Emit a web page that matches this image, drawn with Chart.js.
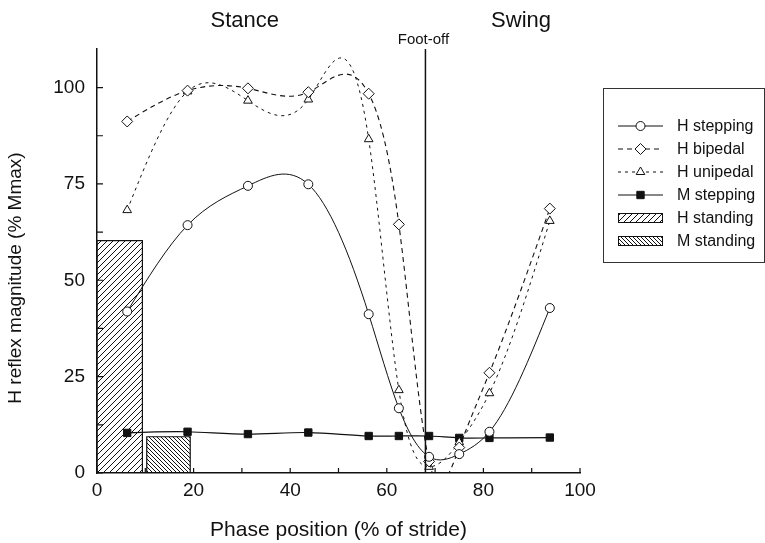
<!DOCTYPE html>
<html>
<head>
<meta charset="utf-8">
<script src="https://cdn.jsdelivr.net/npm/chart.js@4.4.0/dist/chart.umd.min.js"></script>
<style>
  html, body { margin: 0; padding: 0; background: #fff; }
  #wrap { width: 765px; height: 543px; }
</style>
</head>
<body>
<div id="wrap"><canvas id="hreflex" width="765" height="543"></canvas></div>
<script>
// phase bins of the stride (% of stride)
var phase = [6.25, 18.75, 31.25, 43.75, 56.25, 62.5, 68.75, 75, 81.25, 93.75];

// H and M reflex amplitudes (% Mmax)
var hStepping = [41.9, 64.3, 74.5, 74.9, 41.2, 16.8, 4.2, 4.9, 10.7, 42.8];
var hBipedal  = [91.2, 99.2, 99.8, 98.8, 98.4, 64.5, 3.0, 6.6, 26.0, 68.6];
var hUnipedal = [68.2, 99.0, 96.6, 96.9, 86.6, 21.5, 1.6, 8.0, 20.7, 65.4];
var mStepping = [10.4, 10.7, 10.1, 10.5, 9.6, 9.6, 9.6, 9.1, 9.1, 9.2];

// standing values, shown as blocks over a span of the phase axis
var standingLabels = ['H standing', 'M standing'];
var standingValues = [60.3, 9.4];
var standingFrom = [0, 10.3];
var standingTo = [9.4, 19.3];

var footOff = 68;

var xTicks = [0, 10, 20, 30, 40, 50, 60, 70, 80, 90, 100];
var xTickLabels = [0, 20, 40, 60, 80, 100];
var yTicks = [0, 12.5, 25, 37.5, 50, 62.5, 75, 87.5, 100];
var yTickLabels = [0, 25, 50, 75, 100];

var ink = '#111';
var font = "'Liberation Sans', Arial, sans-serif";

var canvas = document.getElementById('hreflex');
var ctx = canvas.getContext('2d');

// diagonal hatch fill, dir 1 = "/", dir -1 = "\"
function hatch(size, dir) {
    var c = document.createElement('canvas');
    c.width = size; c.height = size;
    var g = c.getContext('2d');
    g.strokeStyle = ink;
    g.lineWidth = 1;
    g.beginPath();
    if (dir > 0) {
        g.moveTo(-1, size + 1); g.lineTo(size + 1, -1);
        g.moveTo(-1, 1); g.lineTo(1, -1);
        g.moveTo(size - 1, size + 1); g.lineTo(size + 1, size - 1);
    } else {
        g.moveTo(-1, -1); g.lineTo(size + 1, size + 1);
        g.moveTo(size - 1, -1); g.lineTo(size + 1, 1);
        g.moveTo(-1, size - 1); g.lineTo(1, size + 1);
    }
    g.stroke();
    return ctx.createPattern(c, 'repeat');
}

function pairs(ys) {
    return phase.map(function (x, i) { return { x: x, y: ys[i] }; });
}

function standingBlock(k) {
    return [
        { x: standingFrom[k], y: 0 },
        { x: standingFrom[k], y: standingValues[k] },
        { x: standingTo[k], y: standingValues[k] },
        { x: standingTo[k], y: 0 }
    ];
}

// natural cubic spline through each curve, fed to the line element as bezier control points
var naturalSpline = {
    id: 'naturalSpline',
    afterDatasetsUpdate: function (chart) {
        chart.data.datasets.forEach(function (ds, di) {
            if (!ds.spline) return;
            var meta = chart.getDatasetMeta(di);
            var pts = meta.data, n = pts.length;
            var x = pts.map(function (p) { return p.x; });
            var y = pts.map(function (p) { return p.y; });
            var h = [], M = new Array(n).fill(0);
            for (var i = 0; i < n - 1; i++) h[i] = x[i + 1] - x[i];
            var cp = new Array(n).fill(0), dp = new Array(n).fill(0);
            for (var i = 1; i < n - 1; i++) {
                var a = h[i - 1], b = 2 * (h[i - 1] + h[i]), c = h[i];
                var d = 6 * ((y[i + 1] - y[i]) / h[i] - (y[i] - y[i - 1]) / h[i - 1]);
                var den = b - a * cp[i - 1];
                cp[i] = c / den;
                dp[i] = (d - a * dp[i - 1]) / den;
            }
            for (var i = n - 2; i >= 1; i--) M[i] = dp[i] - cp[i] * M[i + 1];
            pts[0].cp1x = x[0]; pts[0].cp1y = y[0];
            pts[n - 1].cp2x = x[n - 1]; pts[n - 1].cp2y = y[n - 1];
            for (var i = 0; i < n - 1; i++) {
                var s = (y[i + 1] - y[i]) / h[i];
                var d0 = s - h[i] * (2 * M[i] + M[i + 1]) / 6;
                var d1 = s + h[i] * (M[i] + 2 * M[i + 1]) / 6;
                pts[i].cp2x = x[i] + h[i] / 3;
                pts[i].cp2y = y[i] + d0 * h[i] / 3;
                pts[i + 1].cp1x = x[i + 1] - h[i] / 3;
                pts[i + 1].cp1y = y[i + 1] - d1 * h[i] / 3;
            }
            meta.dataset._pointsUpdated = true;
        });
    }
};

// tick marks pointing into the plot
var inwardTicks = {
    id: 'inwardTicks',
    afterDraw: function (chart) {
        var c = chart.ctx, xs = chart.scales.x, ys = chart.scales.y, a = chart.chartArea;
        c.save();
        c.strokeStyle = ink;
        c.lineWidth = 1.2;
        c.beginPath();
        xTicks.forEach(function (v) {
            var px = xs.getPixelForValue(v);
            c.moveTo(px, a.bottom); c.lineTo(px, a.bottom - 5);
        });
        yTicks.forEach(function (v) {
            var py = ys.getPixelForValue(v);
            c.moveTo(a.left, py); c.lineTo(a.left + 6, py);
        });
        c.stroke();
        c.restore();
    }
};

// foot-off marker, phase names and y title
var phaseMarks = {
    id: 'phaseMarks',
    afterDatasetsDraw: function (chart, args, opts) {
        var c = chart.ctx, xs = chart.scales.x, a = chart.chartArea;
        var px = xs.getPixelForValue(footOff);
        c.save();
        c.strokeStyle = ink;
        c.lineWidth = 1.5;
        c.beginPath();
        c.moveTo(px, a.top);
        c.lineTo(px, a.bottom);
        c.stroke();
        c.fillStyle = ink;
        c.textAlign = 'center';
        c.textBaseline = 'middle';
        c.font = '15px ' + font;
        c.fillText('Foot-off', px - 2, 40);
        c.font = '22px ' + font;
        c.fillText('Stance', xs.getPixelForValue(opts.stanceAt), 21);
        c.fillText('Swing', xs.getPixelForValue(opts.swingAt), 21);
        c.translate(16, 278);
        c.rotate(-Math.PI / 2);
        c.font = '19px ' + font;
        c.fillText('H reflex magnitude (% Mmax)', 0, 0);
        c.restore();
    }
};

// framed legend with line/marker and hatch samples
var boxLegend = {
    id: 'boxLegend',
    afterDraw: function (chart, args, o) {
        var c = chart.ctx;
        c.save();
        c.strokeStyle = '#333';
        c.lineWidth = 1;
        c.strokeRect(o.left + 0.5, o.top + 0.5, o.width, o.height);
        chart.data.datasets.forEach(function (ds, i) {
            var y = o.firstRow + i * o.rowGap;
            var x0 = o.left + 15, x1 = o.left + 60, xm = (x0 + x1) / 2;
            c.strokeStyle = ink;
            if (ds.fill) {
                c.fillStyle = ds.backgroundColor;
                c.fillRect(x0, y - 5, x1 - x0, 10);
                c.lineWidth = 1;
                c.strokeRect(x0 + 0.5, y - 4.5, x1 - x0 - 1, 9);
            } else {
                c.lineWidth = ds.borderWidth;
                c.setLineDash(ds.borderDash || []);
                c.beginPath();
                c.moveTo(x0, y); c.lineTo(x1, y);
                c.stroke();
                c.setLineDash([]);
                c.fillStyle = ds.pointBackgroundColor;
                c.lineWidth = 1;
                Chart.helpers.drawPoint(c, {
                    pointStyle: ds.pointStyle, radius: ds.pointRadius,
                    rotation: 0, borderWidth: 1
                }, xm, y);
            }
            c.fillStyle = ink;
            c.font = '16px ' + font;
            c.textAlign = 'left';
            c.textBaseline = 'middle';
            c.fillText(ds.label, o.left + 74, y + 1);
        });
        c.restore();
    }
};

var lineBase = {
    borderColor: ink,
    pointBorderColor: ink,
    pointBorderWidth: 1,
    tension: 0.4,
    spline: true,
    fill: false,
    // curves stop at the phase axis
    clip: { left: 8, right: 8, top: 8, bottom: 0 },
    order: 1
};

function curve(label, ys, extra) {
    return Object.assign({ label: label, data: pairs(ys) }, lineBase, extra);
}

var datasets = [
    curve('H stepping', hStepping, { borderWidth: 1, pointStyle: 'circle', pointRadius: 4.5, pointBackgroundColor: '#fff' }),
    curve('H bipedal', hBipedal, { borderWidth: 1.1, borderDash: [5, 4], pointStyle: 'rectRot', pointRadius: 5.5, pointBackgroundColor: '#fff' }),
    curve('H unipedal', hUnipedal, { borderWidth: 1, borderDash: [3, 4], pointStyle: 'triangle', pointRadius: 5, pointBackgroundColor: '#fff' }),
    curve('M stepping', mStepping, { borderWidth: 1.2, pointStyle: 'rect', pointRadius: 5.2, pointBackgroundColor: ink }),
    {
        label: standingLabels[0], data: standingBlock(0), borderColor: ink, borderWidth: 1.2,
        backgroundColor: hatch(6, 1), fill: 'origin', pointRadius: 0, tension: 0, order: 2
    },
    {
        label: standingLabels[1], data: standingBlock(1), borderColor: ink, borderWidth: 1.2,
        backgroundColor: hatch(4, -1), fill: 'origin', pointRadius: 0, tension: 0, order: 2
    }
];

var chart = new Chart(ctx, {
    type: 'line',
    data: { datasets: datasets },
    options: {
        responsive: false,
        animation: false,
        devicePixelRatio: 1,
        layout: { padding: { top: 49, right: 185, left: 0, bottom: 0 } },
        plugins: {
            legend: { display: false },
            tooltip: { enabled: false },
            phaseMarks: { stanceAt: 30.6, swingAt: 87.8 },
            boxLegend: { left: 603, top: 88, width: 161, height: 174, firstRow: 126, rowGap: 23 }
        },
        scales: {
            x: {
                type: 'linear',
                min: 0,
                max: 100,
                afterBuildTicks: function (s) { s.ticks = xTicks.map(function (v) { return { value: v }; }); },
                afterFit: function (s) { s.height = 70; },
                grid: { display: true, drawOnChartArea: false, drawTicks: false },
                border: { display: true, color: ink, width: 1.5 },
                ticks: {
                    padding: 6,
                    color: ink,
                    font: { family: font, size: 19 },
                    maxRotation: 0,
                    autoSkip: false,
                    callback: function (v) { return xTickLabels.indexOf(v) >= 0 ? String(v) : ''; }
                },
                title: {
                    display: true,
                    text: 'Phase position (% of stride)',
                    color: ink,
                    font: { family: font, size: 21 },
                    padding: { top: 0, bottom: 0 }
                }
            },
            y: {
                type: 'linear',
                min: 0,
                max: 110,
                afterBuildTicks: function (s) { s.ticks = yTicks.map(function (v) { return { value: v }; }); },
                afterFit: function (s) { s.width = 97; },
                grid: { display: true, drawOnChartArea: false, drawTicks: false },
                border: { display: true, color: ink, width: 1.5 },
                ticks: {
                    padding: 12,
                    color: ink,
                    font: { family: font, size: 19 },
                    autoSkip: false,
                    callback: function (v) { return yTickLabels.indexOf(v) >= 0 ? String(v) : ''; }
                }
            }
        }
    },
    plugins: [naturalSpline, inwardTicks, phaseMarks, boxLegend]
});
</script>
</body>
</html>
